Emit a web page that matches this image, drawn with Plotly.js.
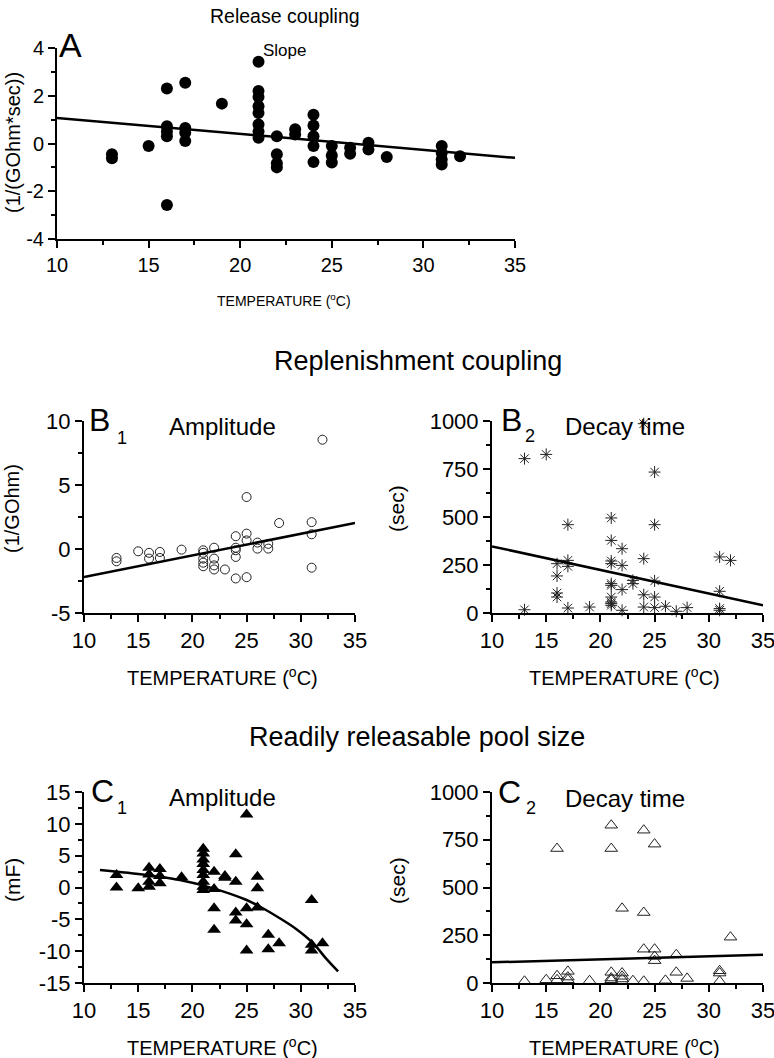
<!DOCTYPE html>
<html>
<head>
<meta charset="utf-8">
<script src="https://cdn.plot.ly/plotly-3.0.1.min.js"></script>
<style>html,body{margin:0;padding:0;background:#fff;}</style>
</head>
<body>
<div id="chart" style="width:774px;height:1058px;"></div>
<script>
// ---------- DATA ----------
// Panel A: Release coupling, slope (1/(GOhm*sec))
const aTemp = [13,13,15,16,16,16,16,16,17,17,17,17,19,21,21,21,21,21,21,21,21,22,22,22,22,23,23,24,24,24,24,24,25,25,25,26,26,27,27,28,31,31,31,31,32];
const aSlope = [-0.45,-0.62,-0.1,2.3,0.72,0.5,0.3,-2.58,2.54,0.65,0.45,0.1,1.67,3.42,2.2,1.95,1.56,1.28,0.8,0.5,0.24,0.3,-0.45,-0.83,-1.0,0.6,0.38,1.2,0.75,0.3,-0.1,-0.78,-0.1,-0.5,-0.8,-0.18,-0.43,0.03,-0.25,-0.57,-0.1,-0.4,-0.67,-0.88,-0.53];
const aFitTemp = [10,35];
const aFitSlope = [1.07,-0.6];

// Panel B1: Replenishment coupling amplitude (1/GOhm)
const b1Temp = [13,13,15,16,16,17,17,19,21,21,21,21,21,22,22,22,22,23,24,24,24,24,24,25,25,25,25,26,26,27,27,28,31,31,31,32];
const b1Amp = [-0.7,-0.96,-0.18,-0.3,-0.75,-0.23,-0.7,-0.05,-0.1,-0.3,-0.75,-1.07,-1.35,0.1,-0.75,-1.28,-1.6,-1.6,1.0,0.1,-0.1,-0.62,-2.3,4.06,1.2,0.67,-2.2,0.5,0.03,0.4,0.03,2.03,2.1,1.15,-1.46,8.54];
const b1FitTemp = [10,35];
const b1FitAmp = [-2.19,2.03];

// Panel B2: Replenishment coupling decay time (sec)
const b2Temp = [13,13,15,16,16,16,16,17,17,17,17,19,21,21,21,21,21,21,21,21,21,21,22,22,22,22,23,23,24,24,24,24,25,25,25,25,25,26,27,28,31,31,31,31,32];
const b2Decay = [804,17,826,257,193,104,83,460,274,243,26,31,495,378,271,257,153,144,83,57,49,40,335,248,122,14,170,153,986,283,95,31,734,460,167,83,28,35,9,28,292,113,23,14,274];
const b2FitTemp = [10,35];
const b2FitDecay = [347,40];

// Panel C1: Readily releasable pool amplitude (mF)
const c1Temp = [13,13,15,16,16,16,16,17,17,17,19,21,21,21,21,21,21,21,21,21,22,22,22,22,23,23,24,24,24,24,25,25,25,25,26,26,26,27,27,28,31,31,31,32];
const c1Amp = [1.96,0,-0.1,3.1,2.06,0.9,0.1,2.9,1.8,0.65,1.6,6.1,5.35,4.4,3.68,2.74,1.96,0.9,0.1,-0.4,2.48,-0.23,-3.26,-6.65,1.8,1.54,5.24,0.9,-3.94,-5.19,11.45,-3.26,-5.77,-9.9,1.7,-0.13,-3.16,-7.44,-9.68,-8.74,-1.96,-9.0,-9.9,-8.74];
const c1FitTemp = [11.47,15.78,18.85,21.92,25.0,26.5,28.06,29.6,31.13,32.3,33.44];
const c1FitAmp = [2.74,1.96,1.17,-0.13,-1.96,-3.26,-4.83,-6.55,-8.74,-11.09,-13.18];

// Panel C2: Readily releasable pool decay time (sec)
const c2Temp = [13,15,16,16,16,17,17,17,19,21,21,21,21,21,22,22,22,22,23,24,24,24,24,25,25,25,25,26,27,27,28,31,31,31,32];
const c2Decay = [9,17,704,38,17,61,31,17,12,826,704,56,26,17,391,52,35,21,12,800,369,177,9,727,177,139,117,14,148,56,24,64,52,9,240];
const c2FitTemp = [10,35];
const c2FitDecay = [108,148];

// Tick labels
const tempTicks = [10,15,20,25,30,35];
const tempTickText = ['10','15','20','25','30','35'];
const aYTicks = [-4,-2,0,2,4];
const aYTickText = ['-4','-2','0','2','4'];
const b1YTicks = [-5,0,5,10];
const b1YTickText = ['-5','0','5','10'];
const secTicks = [0,250,500,750,1000];
const secTickText = ['0','250','500','750','1000'];
const c1YTicks = [-15,-10,-5,0,5,10,15];
const c1YTickText = ['-15','-10','-5','0','5','10','15'];

// ---------- LAYOUT HELPERS ----------
const W = 774, H = 1058;
const FONT = 'Arial, "Liberation Sans", sans-serif';
const px = v => v / W;
const py = v => 1 - v / H;

function xax(dom, anchor, fs) {
  return {
    domain: [px(dom[0]), px(dom[1])], anchor: anchor, range: [10, 35],
    tickmode: 'array', tickvals: tempTicks, ticktext: tempTickText,
    showline: true, linewidth: 2, linecolor: '#000', mirror: false,
    ticks: 'outside', ticklen: 7, tickwidth: 2, tickcolor: '#000',
    minor: {dtick: 2.5, tick0: 10, ticks: 'outside', ticklen: 4, tickwidth: 2, tickcolor: '#000', showgrid: false},
    showgrid: false, zeroline: false, fixedrange: true,
    ticklabeloverflow: 'allow',
    tickfont: {family: FONT, size: fs, color: '#000'}
  };
}
function yax(dom, anchor, range, vals, text, minorD, fs) {
  return {
    domain: [py(dom[1]), py(dom[0])], anchor: anchor, range: range,
    tickmode: 'array', tickvals: vals, ticktext: text,
    showline: true, linewidth: 2, linecolor: '#000', mirror: false,
    ticks: 'outside', ticklen: 7, tickwidth: 2, tickcolor: '#000',
    minor: {dtick: minorD, tick0: range[0], ticks: 'outside', ticklen: 4, tickwidth: 2, tickcolor: '#000', showgrid: false},
    showgrid: false, zeroline: false, fixedrange: true,
    ticklabeloverflow: 'allow',
    tickfont: {family: FONT, size: fs, color: '#000'}
  };
}

const lineStyle = {color: '#000', width: 2.5};

const traces = [
  {x: aTemp, y: aSlope, xaxis: 'x', yaxis: 'y', mode: 'markers', type: 'scatter', cliponaxis: false,
   marker: {symbol: 'circle', size: 12, color: '#000'}},
  {x: aFitTemp, y: aFitSlope, xaxis: 'x', yaxis: 'y', mode: 'lines', type: 'scatter', line: lineStyle},

  {x: b1Temp, y: b1Amp, xaxis: 'x2', yaxis: 'y2', mode: 'markers', type: 'scatter', cliponaxis: false,
   marker: {symbol: 'circle-open', size: 9, color: '#222', line: {width: 1, color: '#222'}}},
  {x: b1FitTemp, y: b1FitAmp, xaxis: 'x2', yaxis: 'y2', mode: 'lines', type: 'scatter', line: lineStyle},

  {x: b2Temp, y: b2Decay, xaxis: 'x3', yaxis: 'y3', mode: 'markers', type: 'scatter', cliponaxis: false,
   marker: {symbol: 'asterisk-open', size: 10, color: '#222', line: {width: 1, color: '#222'}}},
  {x: b2FitTemp, y: b2FitDecay, xaxis: 'x3', yaxis: 'y3', mode: 'lines', type: 'scatter', line: lineStyle},

  {x: c1Temp, y: c1Amp, xaxis: 'x4', yaxis: 'y4', mode: 'markers', type: 'scatter', cliponaxis: false,
   marker: {symbol: 'triangle-up', size: 12, color: '#000'}},
  {x: c1FitTemp, y: c1FitAmp, xaxis: 'x4', yaxis: 'y4', mode: 'lines', type: 'scatter', line: {color: '#000', width: 2.5, shape: 'spline'}},

  {x: c2Temp, y: c2Decay, xaxis: 'x5', yaxis: 'y5', mode: 'markers', type: 'scatter', cliponaxis: false,
   marker: {symbol: 'triangle-up-open', size: 11, color: '#222', line: {width: 1, color: '#222'}}},
  {x: c2FitTemp, y: c2FitDecay, xaxis: 'x5', yaxis: 'y5', mode: 'lines', type: 'scatter', line: lineStyle}
];

function ann(text, x, y, size, opts) {
  return Object.assign({
    text: text, xref: 'paper', yref: 'paper', x: px(x), y: py(y),
    xanchor: 'center', yanchor: 'middle', showarrow: false,
    font: {family: FONT, size: size, color: '#000'}
  }, opts || {});
}
const tempTitle = 'TEMPERATURE (<sup>o</sup>C)';

const annotations = [
  ann('Release coupling', 285, 16, 19.5),
  ann('Replenishment coupling', 418, 361, 27),
  ann('Readily releasable pool size', 417, 737, 27),

  ann('A', 70, 45, 34),
  ann('Slope', 284, 50, 17),
  ann(tempTitle, 284, 300, 14),
  ann('(1/(GOhm*sec))', 13, 143, 20, {textangle: -90}),

  ann('B', 99, 420, 32),
  ann('1', 122, 438, 18),
  ann('Amplitude', 222, 427, 24),
  ann(tempTitle, 222, 676, 20),
  ann('(1/GOhm)', 12, 509, 20, {textangle: -90}),

  ann('B', 511, 420, 32),
  ann('2', 530, 436, 18),
  ann('Decay time', 625, 427, 24),
  ann(tempTitle, 624, 676, 20),
  ann('(sec)', 397, 508, 21, {textangle: -90}),

  ann('C', 102, 791, 32),
  ann('1', 122, 808, 18),
  ann('Amplitude', 222, 797, 24),
  ann(tempTitle, 222, 1046, 20),
  ann('(mF)', 12, 880, 21, {textangle: -90}),

  ann('C', 510, 792, 32),
  ann('2', 531, 808, 18),
  ann('Decay time', 625, 798, 24),
  ann(tempTitle, 624, 1046, 20),
  ann('(sec)', 397, 880, 21, {textangle: -90})
];

const layout = {
  width: W, height: H,
  margin: {l: 0, r: 0, t: 0, b: 0},
  paper_bgcolor: '#fff', plot_bgcolor: 'rgba(0,0,0,0)',
  showlegend: false,
  font: {family: FONT, color: '#000'},
  xaxis: xax([57, 515], 'y', 20),
  yaxis: yax([48, 239], 'x', [-4, 4], aYTicks, aYTickText, 1, 20),
  xaxis2: xax([84, 355], 'y2', 22),
  yaxis2: yax([421, 613], 'x2', [-5, 10], b1YTicks, b1YTickText, 2.5, 22),
  xaxis3: xax([492, 763], 'y3', 22),
  yaxis3: yax([421, 613], 'x3', [0, 1000], secTicks, secTickText, 125, 22),
  xaxis4: xax([84, 355], 'y4', 22),
  yaxis4: yax([792, 983], 'x4', [-15, 15], c1YTicks, c1YTickText, 2.5, 22),
  xaxis5: xax([492, 763], 'y5', 22),
  yaxis5: yax([792, 983], 'x5', [0, 1000], secTicks, secTickText, 125, 22),
  annotations: annotations
};

Plotly.newPlot('chart', traces, layout, {staticPlot: true, displayModeBar: false});
</script>
</body>
</html>
